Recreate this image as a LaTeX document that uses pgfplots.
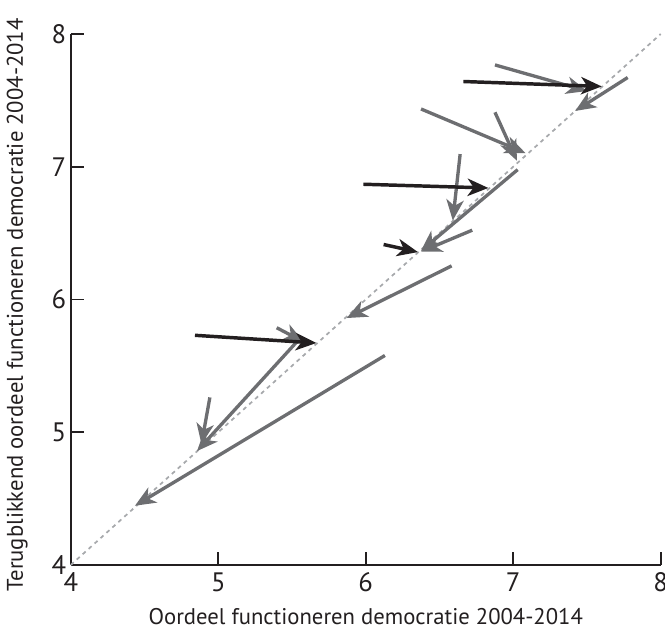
\documentclass[border=0pt]{standalone}
\usepackage{fontspec}
\setmainfont{PT Sans}
\usepackage{pgfplots}
\pgfplotsset{compat=1.18}
\usetikzlibrary{arrows.meta}

\definecolor{arrgray}{HTML}{6D6E71}
\definecolor{arrblack}{HTML}{231F20}
\definecolor{diaggray}{HTML}{A7A9AC}

\tikzset{
  arrhead/.style={-{Stealth[length=15.5pt, width=13pt, inset=4.5pt]}},
  grayarr/.style={arrgray, line width=2.5pt, arrhead},
  blackarr/.style={arrblack, line width=2.6pt, arrhead},
}

\begin{document}
\begin{tikzpicture}
\begin{axis}[
    scale only axis,
    width=442.5pt, height=398.25pt,
    xmin=4, xmax=8,
    ymin=4, ymax=8,
    axis lines=left,
    axis line style={-, line width=1.2pt, arrblack},
    xtick={4,5,6,7,8},
    ytick={4,5,6,7,8},
    tick align=inside,
    major tick length=10pt,
    tick style={line width=1.2pt, arrblack},
    ticklabel style={font=\fontsize{20}{20}\selectfont, text=arrblack},
    xticklabel style={yshift=-2.5pt},
    /pgf/number format/assume math mode=true,
    xlabel={Oordeel functioneren democratie 2004-2014},
    ylabel={Terugblikkend oordeel functioneren democratie 2004-2014},
    label style={font=\fontsize{17}{17}\selectfont, text=arrblack},
    xlabel style={at={(axis description cs:0.5,-0.097)}, anchor=center},
    ylabel style={at={(axis description cs:-0.091,0.49)}, anchor=center},
    clip=false,
]

% 45 degree reference line
\addplot[diaggray, line width=1.3pt, dash pattern=on 3pt off 3pt] coordinates {(4,4) (8,8)};

% grey arrows
\addplot[grayarr] coordinates {(6.876,7.767) (7.50,7.57)};
\addplot[grayarr] coordinates {(7.776,7.672) (7.42,7.42)};
\addplot[grayarr] coordinates {(6.375,7.435) (7.083,7.103)};
\addplot[grayarr] coordinates {(6.876,7.41) (7.025,7.045)};
\addplot[grayarr] coordinates {(6.64,7.095) (6.59,6.595)};
\addplot[grayarr] coordinates {(7.03,6.978) (6.374,6.366)};
\addplot[grayarr] coordinates {(6.722,6.522) (6.375,6.36)};
\addplot[grayarr] coordinates {(6.582,6.253) (5.87,5.86)};
\addplot[grayarr] coordinates {(5.396,5.787) (5.58,5.68)};
\addplot[grayarr] coordinates {(5.54,5.69) (4.856,4.858)};
\addplot[grayarr] coordinates {(4.943,5.262) (4.886,4.91)};
\addplot[grayarr] coordinates {(6.13,5.578) (4.435,4.446)};

% black arrows
\addplot[blackarr] coordinates {(6.662,7.642) (7.60,7.605)};
\addplot[blackarr] coordinates {(5.984,6.868) (6.831,6.84)};
\addplot[blackarr] coordinates {(6.121,6.414) (6.354,6.357)};
\addplot[blackarr] coordinates {(4.842,5.73) (5.665,5.672)};

\end{axis}
\pgfresetboundingbox
\path (-53.1pt,-49.5pt) rectangle (445.7pt,423.75pt);
\end{tikzpicture}
\end{document}
